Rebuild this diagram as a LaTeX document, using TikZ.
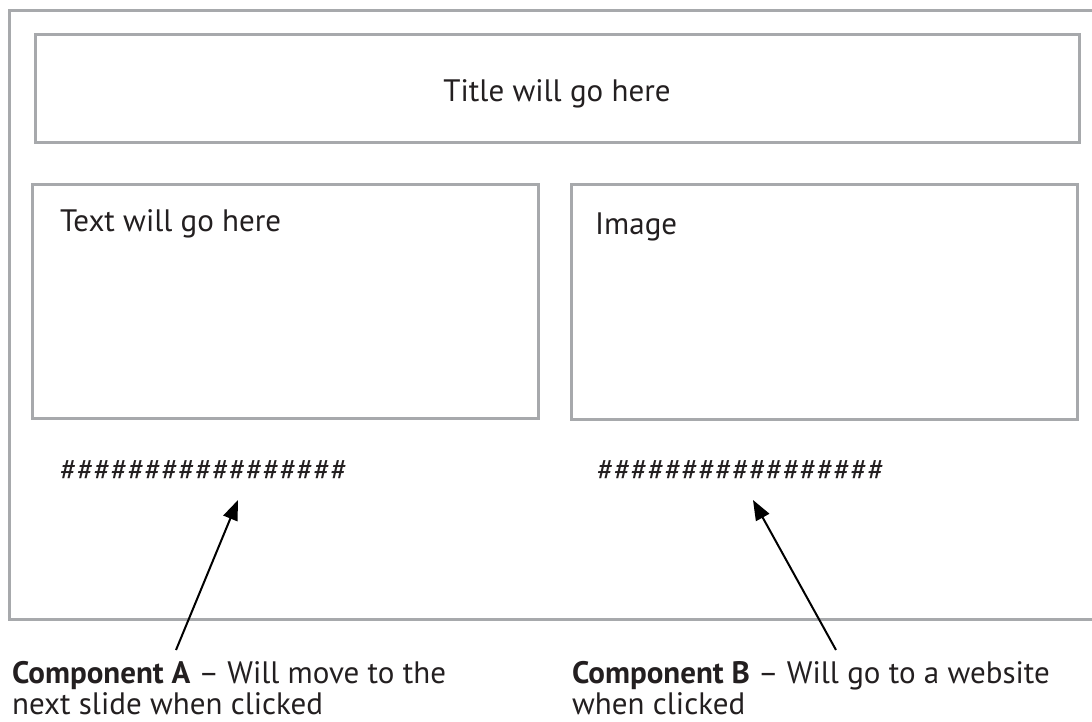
\documentclass[tikz,border=0pt]{standalone}
\usepackage{fontspec}
\setmainfont{PT Sans}
\usetikzlibrary{arrows.meta}

\definecolor{framegray}{RGB}{167,169,172}
\definecolor{inkgray}{RGB}{35,31,32}

\tikzset{
  panel/.style={draw=framegray, line width=3pt},
  label/.style={anchor=base west, inner sep=0pt, text=inkgray,
                font=\fontsize{31}{31}\selectfont},
  pointer/.style={-{Triangle[length=20pt,width=15pt]}, line width=2pt, black}
}

\begin{document}
\begin{tikzpicture}[x=1pt,y=-1pt]
  \useasboundingbox (0,0) rectangle (1092,722);

  % slide frame, cut off on the right
  \draw[panel] (1100,11) -- (9,11) -- (9,619) -- (1100,619);

  \draw[panel] (35,35) rectangle (1079,143);
  \draw[panel] (32,185) rectangle (538,418);
  \draw[panel] (571,185) rectangle (1077,419);

  \node[label, anchor=base] (title) at (557,102) {Title will go here};
  \node[label] (text)  at (60,232) {Text will go here};
  \node[label] (image) at (595,234) {Image};

  \node[label] (hashA) at (60,480)  {\#\#\#\#\#\#\#\#\#\#\#\#\#\#\#\#\#};
  \node[label] (hashB) at (597,480) {\#\#\#\#\#\#\#\#\#\#\#\#\#\#\#\#\#};

  % base of a two-line node is the last line
  \node[label, align=left] (compA) at (12,714)
    {\textbf{Component A} -- Will move to the\\next slide when clicked};
  \node[label, align=left] (compB) at (572,714)
    {\textbf{Component B} -- Will go to a website\\when clicked};

  \coordinate (tailA) at (176,650);
  \coordinate (tipA)  at (238,500);
  \coordinate (tailB) at (836,650);
  \coordinate (tipB)  at (753,500);

  \draw[pointer] (tailA) -- (tipA);
  \draw[pointer] (tailB) -- (tipB);
\end{tikzpicture}
\end{document}
